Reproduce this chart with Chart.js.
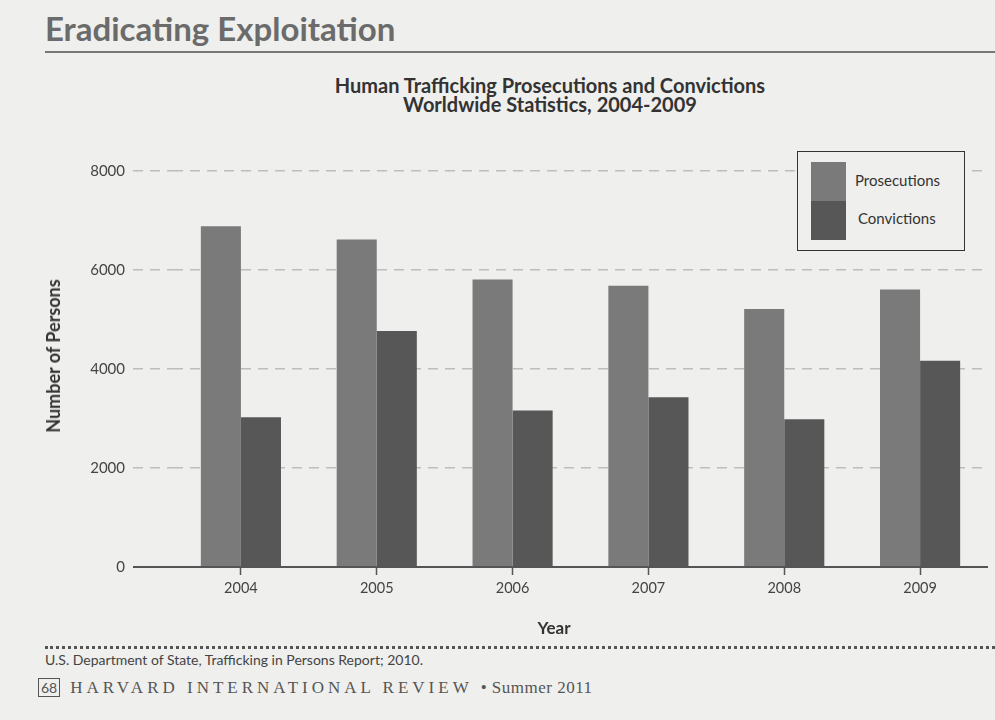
<!DOCTYPE html>
<html>
<head>
<meta charset="utf-8">
<script src="https://cdn.jsdelivr.net/npm/chart.js@4"></script>
<style>
  body { margin: 0; background: #efefed; width: 995px; height: 720px; overflow: hidden; position: relative; font-family: Lato, "Open Sans", sans-serif; color: #333; }
  #head { position: absolute; left: 45px; top: 8px; font-size: 33px; font-weight: bold; color: #6b6b6b; }
  #headline { position: absolute; left: 45px; top: 51px; width: 950px; height: 2px; background: #777; }
  #title { position: absolute; left: 200px; width: 700px; top: 76px; text-align: center; font-size: 20px; font-weight: bold; line-height: 19px; color: #333; }
  #wrap { position: absolute; left: 0; top: 120px; width: 995px; height: 527px; }
  #ytitle { position: absolute; left: 53px; top: 356px; transform: translate(-50%, -50%) rotate(-90deg); white-space: nowrap; font-size: 18px; font-weight: bold; color: #333; }
  #xtitle { position: absolute; left: 554px; top: 627px; transform: translate(-50%, -50%); font-size: 17px; font-weight: bold; color: #333; }
  #legend { position: absolute; left: 797px; top: 151px; width: 166px; height: 98px; border: 1.5px solid #333; background: #efefed; }
  .sw { position: absolute; left: 13px; width: 35px; height: 39px; }
  .lt { position: absolute; left: 57px; font-size: 15px; color: #333; }
  #dots { position: absolute; left: 45px; top: 646px; width: 950px; border-top: 3px dotted #555; }
  #src { position: absolute; left: 45px; top: 651px; font-size: 14px; color: #444; }
  #foot { position: absolute; left: 38px; top: 678px; font-family: "Liberation Serif", serif; font-size: 17px; color: #555; letter-spacing: 4px; }
  #foot span.pg { border: 1px solid #555; padding: 0 2px; letter-spacing: 0; font-family: Lato, sans-serif; font-size: 14px; margin-right: 10px; }
  #foot span.sm { letter-spacing: 0.5px; }
</style>
</head>
<body>
<div id="head">Eradicating Exploitation</div>
<div id="headline"></div>
<div id="title">Human Trafficking Prosecutions and Convictions<br>Worldwide Statistics, 2004-2009</div>
<div id="wrap"><canvas id="myChart"></canvas></div>
<div id="ytitle">Number of Persons</div>
<div id="xtitle">Year</div>
<div id="legend">
  <div class="sw" style="top:10px;background:#7a7a7a"></div>
  <div class="sw" style="top:49px;background:#575757"></div>
  <div class="lt" style="top:19px">Prosecutions</div>
  <div class="lt" style="top:57px;left:60px">Convictions</div>
</div>
<div id="dots"></div>
<div id="src">U.S. Department of State, Trafficking in Persons Report; 2010.</div>
<div id="foot"><span class="pg">68</span>HARVARD INTERNATIONAL REVIEW <span class="sm">• Summer 2011</span></div>

<script>
// values (TIP report 2010)
const years = ['2004', '2005', '2006', '2007', '2008', '2009']
const prosecutions = [6885, 6618, 5808, 5682, 5212, 5606]
const convictions = [3026, 4766, 3160, 3427, 2983, 4166]
const yTicks = [0, 2000, 4000, 6000, 8000]

const isZero = c => c.tick && c.tick.value === 0

const config = {
  type: 'bar',
  data: {
    labels: years,
    datasets: [
      { label: 'Prosecutions', data: prosecutions, backgroundColor: '#7a7a7a' },
      { label: 'Convictions', data: convictions, backgroundColor: '#575757' }
    ]
  },
  options: {
    responsive: true,
    maintainAspectRatio: false,
    animation: false,
    layout: { padding: { top: 51, left: 30, right: 7, bottom: 0 } },
    datasets: { bar: { categoryPercentage: 0.59, barPercentage: 1.0 } },
    plugins: { legend: { display: false }, tooltip: { enabled: false } },
    scales: {
      x: {
        grid: { offset: false, drawOnChartArea: false, drawTicks: true, tickLength: 8, color: '#555', tickWidth: 1.5 },
        border: { display: false },
        ticks: { color: '#444', font: { family: 'Lato', size: 14.5 }, padding: 5 },
        afterFit: s => { s.height = 80 }
      },
      y: {
        min: 0,
        max: 8000,
        afterBuildTicks: s => { s.ticks = yTicks.map(v => ({ value: v })) },
        grid: {
          color: c => isZero(c) ? '#555' : '#bdbdbb',
          lineWidth: c => isZero(c) ? 2 : 1.5,
          tickLength: 40,
          tickColor: c => isZero(c) ? '#555' : '#bdbdbb',
          tickWidth: c => isZero(c) ? 2 : 1.5,
          tickBorderDash: c => isZero(c) ? [] : [10, 7]
        },
        border: { display: false, dash: c => isZero(c) ? [] : [10, 7] },
        ticks: { color: '#444', font: { family: 'Lato', size: 15 }, padding: 8, callback: v => String(v) },
        afterFit: s => { s.width = 143 }
      }
    }
  }
}

const myChart = new Chart(document.getElementById('myChart'), config)
</script>
</body>
</html>
